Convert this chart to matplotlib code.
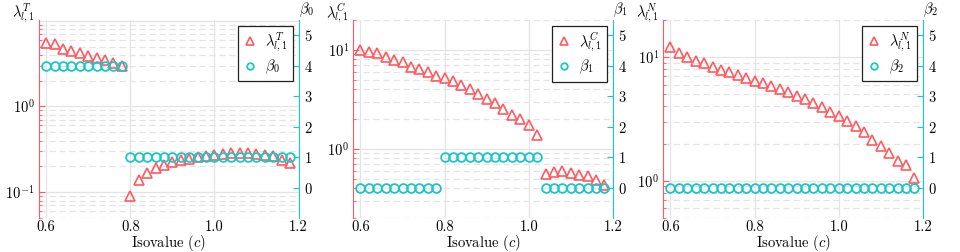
import matplotlib
matplotlib.use("Agg")
import matplotlib.pyplot as plt
from matplotlib.ticker import LogLocator, NullFormatter, FixedLocator

plt.rcParams["font.family"] = "serif"
plt.rcParams["font.serif"] = ["cmr10"]
plt.rcParams["mathtext.fontset"] = "cm"
plt.rcParams["axes.formatter.use_mathtext"] = True
plt.rcParams["axes.unicode_minus"] = True

RED = "#ff5a5f"
CYAN = "#1cc6c6"
GRID = "#e4e4e4"
FS = 10.5

isovalue = [0.60, 0.62, 0.64, 0.66, 0.68, 0.70, 0.72, 0.74, 0.76, 0.78,
            0.80, 0.82, 0.84, 0.86, 0.88, 0.90, 0.92, 0.94, 0.96, 0.98,
            1.00, 1.02, 1.04, 1.06, 1.08, 1.10, 1.12, 1.14, 1.16, 1.18]

lam_T = [5.55, 5.30, 4.69, 4.48, 4.18, 3.92, 3.65, 3.49, 3.25, 2.97,
         0.090, 0.137, 0.168, 0.192, 0.210, 0.225, 0.236, 0.247, 0.258, 0.267,
         0.274, 0.282, 0.287, 0.287, 0.287, 0.282, 0.274, 0.262, 0.240, 0.220]
beta_0 = [4, 4, 4, 4, 4, 4, 4, 4, 4, 4,
          1, 1, 1, 1, 1, 1, 1, 1, 1, 1,
          1, 1, 1, 1, 1, 1, 1, 1, 1, 1]

lam_C = [10.0, 9.4, 9.2, 8.5, 7.9, 7.45, 6.74, 6.39, 5.92, 5.39,
         5.15, 4.87, 4.41, 4.02, 3.58, 3.19, 2.88, 2.53, 2.22, 2.00,
         1.72, 1.38, 0.56, 0.58, 0.59, 0.57, 0.55, 0.526, 0.487, 0.43]
beta_1 = [0, 0, 0, 0, 0, 0, 0, 0, 0, 0,
          1, 1, 1, 1, 1, 1, 1, 1, 1, 1,
          1, 1, 0, 0, 0, 0, 0, 0, 0, 0]

lam_N = [12.05, 10.8, 10.0, 9.4, 9.0, 8.4, 7.94, 7.65, 7.2, 6.8,
         6.47, 6.15, 5.82, 5.54, 5.20, 4.89, 4.59, 4.26, 3.93, 3.63,
         3.37, 3.07, 2.76, 2.47, 2.15, 1.92, 1.67, 1.45, 1.35, 1.06]
beta_2 = [0] * 30

panels = [
    (lam_T, beta_0, r"$\lambda^T_{l,1}$", r"$\beta_0$", (0.05, 10.2), [0.1, 1], 39),
    (lam_C, beta_1, r"$\lambda^C_{l,1}$", r"$\beta_1$", (0.2, 20), [1, 10], 353.3),
    (lam_N, beta_2, r"$\lambda^N_{l,1}$", r"$\beta_2$", (0.5, 20), [1, 10], 663.3),
]

W, H = 960, 252
fig = plt.figure(figsize=(W / 100, H / 100), dpi=100)
AW = 259.5

for lam, beta, llab, rlab, ylim, yt, left in panels:
    ax = fig.add_axes([left / W, 1 - 218 / H, AW / W, 198 / H])
    ax2 = ax.twinx()

    ax.set_xlim(0.583, 1.2)
    ax.set_yscale("log")
    ax.set_ylim(*ylim)
    ax2.set_ylim(-1, 5.5)

    ax.set_yticks(yt)
    ax.yaxis.set_minor_locator(LogLocator(base=10, subs=range(2, 10)))
    ax.yaxis.set_minor_formatter(NullFormatter())
    ax.xaxis.set_major_locator(FixedLocator([0.6, 0.8, 1.0, 1.2]))
    ax.set_xticklabels(["0.6", "0.8", "1.0", "1.2"])
    ax2.set_yticks([0, 1, 2, 3, 4, 5])

    ax.grid(True, which="major", color=GRID, lw=0.9, ls="-")
    ax.grid(True, which="minor", axis="y", color=GRID, lw=0.9, ls=(0, (5, 3)))
    if ylim[1] < 12:
        ax.axhline(10, color=GRID, lw=0.9, zorder=0.5)
    ax.set_axisbelow(True)

    l1, = ax.plot(isovalue, lam, ls="none", marker="^", ms=7, mfc="none",
                  mec=RED, mew=1.2, label=llab)
    l2, = ax2.plot(isovalue, beta, ls="none", marker="o", ms=6.3, mfc="none",
                   mec=CYAN, mew=1.3, label=rlab)

    for a in (ax, ax2):
        a.spines["top"].set_visible(False)
        a.spines["bottom"].set_visible(False)
    ax.spines["right"].set_visible(False)
    ax2.spines["left"].set_visible(False)
    ax.spines["left"].set_color(RED)
    ax2.spines["right"].set_color(CYAN)

    ax.tick_params(axis="x", length=0, labelsize=FS, pad=2)
    ax.tick_params(axis="y", which="major", direction="in", length=4,
                   color=RED, labelsize=FS, pad=3)
    ax.tick_params(axis="y", which="minor", direction="in", length=2.2,
                   color=RED)
    ax2.tick_params(axis="y", direction="in", length=4, color=CYAN,
                    labelsize=FS, pad=4)

    ax.set_xlabel(r"Isovalue ($c$)", fontsize=FS, labelpad=-1)
    fig.text((left - 4.5) / W, 1 - 1.5 / H, llab, ha="right",
             va="top", fontsize=FS)
    fig.text((left + AW + 0.5) / W, 1 - 19 / H, rlab, ha="left",
             va="bottom", fontsize=FS)

    leg = ax2.legend(handles=[l1, l2], loc="upper right", fontsize=FS,
                     frameon=True, fancybox=False, edgecolor="#222222",
                     framealpha=1, borderaxespad=0.4, handlelength=0.9,
                     handletextpad=0.6, borderpad=0.35, labelspacing=0.25,
                     markerscale=0.75)
    leg.get_frame().set_linewidth(0.9)

fig.savefig("out.png", dpi=100)
